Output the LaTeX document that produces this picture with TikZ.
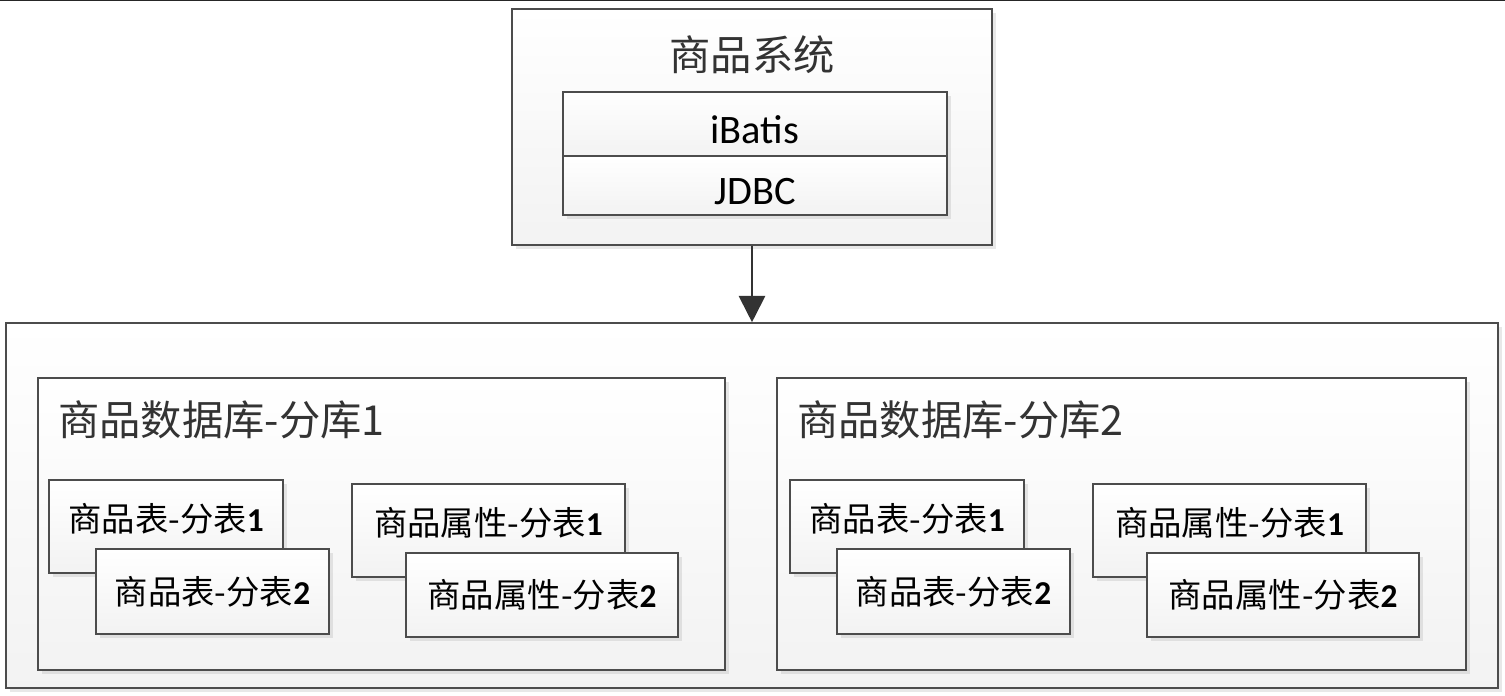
\documentclass[tikz,border=0pt]{standalone}
\usepackage{fontspec}
\setmainfont{Carlito}
\newfontfamily\cjk{Noto Sans CJK SC}
\usetikzlibrary{arrows.meta, shadows}

\newcommand\tnum[1]{{\rmfamily\bfseries #1}}

\begin{document}
\begin{tikzpicture}[
        box/.style={draw=black!70, line width=0.9pt, top color=white, bottom color=black!5, drop shadow={opacity=0.18, shadow xshift=2pt, shadow yshift=-2pt}},
        layer/.style={box, minimum width=7.68cm, text height=22pt, text depth=0pt, font=\fontsize{23}{26}\selectfont},
        tbl/.style={box, font=\cjk\fontsize{19}{21}\selectfont, inner sep=0pt},
        back/.style={tbl, text depth=10pt},
        title/.style={font=\cjk\fontsize{23.5}{26}\selectfont, text=black!80, inner sep=0pt},
        arrow/.style={-{Triangle[width=15pt, length=15pt]}, line width=1.1pt, draw=black!80}
    ]
        \fill[white] (0,0) rectangle (30.1,13.92);
        \useasboundingbox (0,0) rectangle (30.1,13.92);
        \coordinate (edgeL) at (0,13.92);
        \coordinate (edgeR) at (30.1,13.92);
        \draw[black!85, line width=1pt] (edgeL) -- (edgeR);

        % application side
        \node[box, minimum width=9.6cm, minimum height=4.72cm] (sys) at (15.04,11.38) {};
        \node[title] (systitle) at (15.04,12.82) {商品系统};
        \node[layer, minimum height=1.28cm] (ibatis) at (15.10,11.44) {iBatis};
        \node[layer, minimum height=1.18cm] (jdbc) at (15.10,10.21) {JDBC};

        % database side
        \node[box, minimum width=29.84cm, minimum height=7.3cm] (store) at (15.04,3.81) {};
        \node[box, minimum width=13.74cm, minimum height=5.84cm] (db1) at (7.63,3.44) {};
        \node[box, minimum width=13.78cm, minimum height=5.84cm] (db2) at (22.43,3.44) {};
        \node[title, anchor=west] (db1title) at (1.16,5.52) {商品数据库-分库1};
        \node[title, anchor=west] (db2title) at (15.94,5.52) {商品数据库-分库2};

        \node[back, minimum width=4.68cm, minimum height=1.86cm] (goods11) at (3.32,3.39) {商品表-分表\tnum{1}};
        \node[tbl, minimum width=4.66cm, minimum height=1.70cm] (goods12) at (4.25,2.09) {商品表-分表\tnum{2}};
        \node[back, minimum width=5.46cm, minimum height=1.86cm] (attr11) at (9.77,3.31) {商品属性-分表\tnum{1}};
        \node[tbl, minimum width=5.44cm, minimum height=1.68cm] (attr12) at (10.84,2.02) {商品属性-分表\tnum{2}};

        \node[back, minimum width=4.68cm, minimum height=1.86cm] (goods21) at (18.14,3.39) {商品表-分表\tnum{1}};
        \node[tbl, minimum width=4.66cm, minimum height=1.70cm] (goods22) at (19.07,2.09) {商品表-分表\tnum{2}};
        \node[back, minimum width=5.46cm, minimum height=1.86cm] (attr21) at (24.59,3.31) {商品属性-分表\tnum{1}};
        \node[tbl, minimum width=5.44cm, minimum height=1.68cm] (attr22) at (25.66,2.02) {商品属性-分表\tnum{2}};

        \draw[arrow] (sys.south) -- (store.north);
    \end{tikzpicture}
\end{document}
